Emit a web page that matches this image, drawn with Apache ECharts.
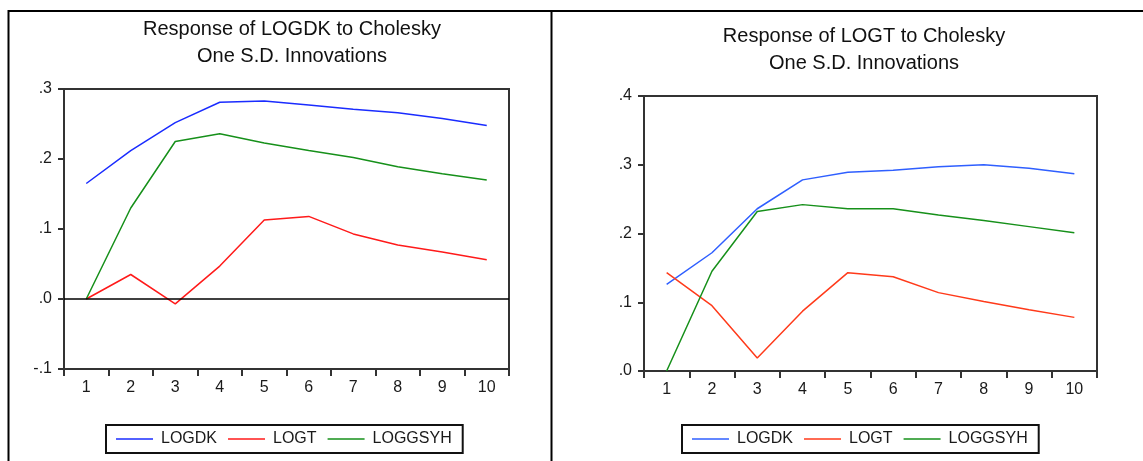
<!DOCTYPE html>
<html>
<head>
<meta charset="utf-8">
<script src="https://cdn.jsdelivr.net/npm/echarts@6/dist/echarts.min.js"></script>
<style>
  html, body { margin: 0; padding: 0; background: #fff; }
  #chart { width: 1143px; height: 461px; }
</style>
</head>
<body>
<div id="chart"></div>
<script>
// ---- Data ----
const periods = ['1', '2', '3', '4', '5', '6', '7', '8', '9', '10'];
const seriesNames = ['LOGDK', 'LOGT', 'LOGGSYH'];

// Response of LOGDK
const dkLOGDK   = [0.165, 0.212, 0.252, 0.281, 0.283, 0.277, 0.271, 0.266, 0.258, 0.248];
const dkLOGT    = [0.000, 0.035, -0.007, 0.047, 0.113, 0.118, 0.093, 0.077, 0.067, 0.056];
const dkLOGGSYH = [0.000, 0.130, 0.225, 0.236, 0.223, 0.212, 0.202, 0.189, 0.179, 0.170];

// Response of LOGT
const tLOGDK   = [0.126, 0.172, 0.236, 0.278, 0.289, 0.292, 0.297, 0.300, 0.295, 0.287];
const tLOGT    = [0.143, 0.095, 0.019, 0.087, 0.143, 0.137, 0.114, 0.101, 0.089, 0.078];
const tLOGGSYH = [0.000, 0.145, 0.232, 0.242, 0.236, 0.236, 0.227, 0.219, 0.210, 0.201];

const titles = ['Response of LOGDK to Cholesky\nOne S.D. Innovations',
                'Response of LOGT to Cholesky\nOne S.D. Innovations'];

// ---- Styling helpers ----
const FONT = '"Liberation Sans", Arial, sans-serif';
const AXIS_COLOR = '#333';
const leftColors = ['#1a2cff', '#ff1a1a', '#16901a'];
const rightColors = ['#2f5fff', '#ff3a1a', '#16901a'];

function fmt(v) {
  const s = Math.abs(v).toFixed(1).replace(/^0/, '');
  return (v < -1e-9 ? '-' : '') + s;
}

function xAxis(gi) {
  return {
    type: 'category', gridIndex: gi, data: periods, boundaryGap: true,
    axisLine: { show: true, onZero: false, lineStyle: { color: AXIS_COLOR, width: 2 } },
    axisTick: { show: true, length: 7, lineStyle: { color: AXIS_COLOR, width: 2 } },
    axisLabel: { margin: 11, fontSize: 16, color: '#1a1a1a', fontFamily: FONT },
    splitLine: { show: false }
  };
}
function yAxis(gi, min, max) {
  return {
    type: 'value', gridIndex: gi, min: min, max: max, interval: 0.1,
    axisLine: { show: true, onZero: false, lineStyle: { color: AXIS_COLOR, width: 2 } },
    axisTick: { show: true, length: 6, lineStyle: { color: AXIS_COLOR, width: 2 } },
    axisLabel: { margin: 12, fontSize: 16, color: '#1a1a1a', fontFamily: FONT, formatter: fmt },
    splitLine: { show: false }
  };
}
function line(name, data, gi, color, extra) {
  return Object.assign({
    name: name, type: 'line', xAxisIndex: gi, yAxisIndex: gi, data: data,
    symbol: 'none', smooth: false, animation: false,
    lineStyle: { color: color, width: 1.5 }, itemStyle: { color: color }
  }, extra || {});
}
function legend(left, top, colors) {
  return {
    left: left, top: top, orient: 'horizontal',
    itemWidth: 37, itemHeight: 14, itemGap: 11,
    padding: [6, 11, 6, 10],
    borderColor: '#111', borderWidth: 2,
    textStyle: { fontSize: 16, color: '#1a1a1a', fontFamily: FONT, padding: [0, 0, 0, 3] },
    data: seriesNames.map((n, i) => ({ name: n, icon: 'path://M0,0 L37,0 L37,1.5 L0,1.5 Z', itemStyle: { color: colors[i] } }))
  };
}

const chart = echarts.init(document.getElementById('chart'), null, { renderer: 'canvas' });
chart.setOption({
  backgroundColor: '#fff',
  animation: false,
  title: [
    { text: titles[0], left: 287, top: 11, textAlign: 'center',
      textStyle: { fontSize: 20, fontWeight: 'normal', color: '#111', fontFamily: FONT, lineHeight: 27 } },
    { text: titles[1], left: 859, top: 18, textAlign: 'center',
      textStyle: { fontSize: 20, fontWeight: 'normal', color: '#111', fontFamily: FONT, lineHeight: 27 } }
  ],
  grid: [
    { left: 64, top: 89, width: 445, height: 280, show: true, borderColor: AXIS_COLOR, borderWidth: 2, containLabel: false },
    { left: 644, top: 96, width: 453, height: 275, show: true, borderColor: AXIS_COLOR, borderWidth: 2, containLabel: false }
  ],
  xAxis: [xAxis(0), xAxis(1)],
  yAxis: [yAxis(0, -0.1, 0.3), yAxis(1, 0, 0.4)],
  legend: [legend(106, 425, leftColors), legend(682, 425, rightColors)],
  series: [
    line(seriesNames[0], dkLOGDK, 0, leftColors[0], {
      markLine: { silent: true, symbol: ['none', 'none'], label: { show: false },
        lineStyle: { color: '#000', width: 1.5, type: 'solid' }, data: [{ yAxis: 0 }], animation: false }
    }),
    line(seriesNames[1], dkLOGT, 0, leftColors[1]),
    line(seriesNames[2], dkLOGGSYH, 0, leftColors[2]),
    line(seriesNames[0], tLOGDK, 1, rightColors[0]),
    line(seriesNames[1], tLOGT, 1, rightColors[1]),
    line(seriesNames[2], tLOGGSYH, 1, rightColors[2])
  ],
  graphic: [
    { type: 'line', shape: { x1: 8, y1: 11, x2: 1143, y2: 11 }, style: { stroke: '#000', lineWidth: 2 } },
    { type: 'line', shape: { x1: 8.5, y1: 10, x2: 8.5, y2: 461 }, style: { stroke: '#000', lineWidth: 2 } },
    { type: 'line', shape: { x1: 551.5, y1: 10, x2: 551.5, y2: 461 }, style: { stroke: '#000', lineWidth: 2 } }
  ]
});
</script>
</body>
</html>
